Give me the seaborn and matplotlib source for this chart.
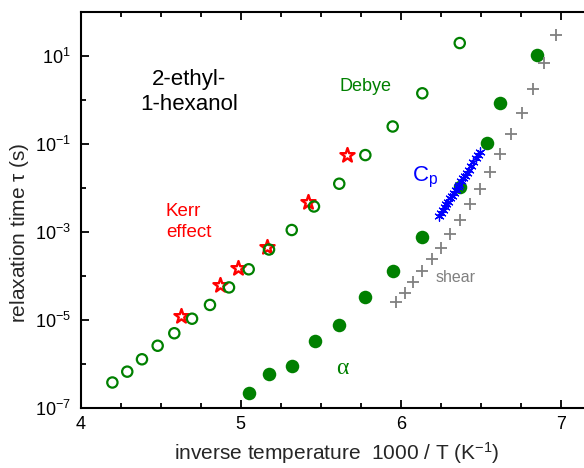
import numpy as np
import pandas as pd
import matplotlib
matplotlib.use("Agg")
import matplotlib.pyplot as plt
from matplotlib.ticker import FixedLocator, NullFormatter, LogFormatterSciNotation
import seaborn as sns

# Debye relaxation (dielectric), open circles
debye_x = [4.198, 4.291, 4.383, 4.481, 4.585, 4.696, 4.808, 4.927, 5.050,
           5.177, 5.319, 5.458, 5.616, 5.779, 5.950, 6.135, 6.369]
debye_tau = [3.8e-7, 6.7e-7, 1.28e-6, 2.6e-6, 5.0e-6, 1.07e-5, 2.2e-5, 5.5e-5,
             1.42e-4, 4.0e-4, 1.11e-3, 3.8e-3, 1.25e-2, 5.6e-2, 0.25, 1.42, 19.7]

# Kerr effect, red stars
kerr_x = [4.625, 4.871, 4.981, 5.166, 5.421, 5.666]
kerr_tau = [1.23e-5, 6.2e-5, 1.5e-4, 4.6e-4, 4.9e-3, 5.6e-2]

# alpha relaxation, filled circles
alpha_x = [5.049, 5.179, 5.319, 5.463, 5.616, 5.779, 5.950, 6.135, 6.371,
           6.538, 6.623, 6.850]
alpha_tau = [2.2e-7, 5.8e-7, 9.1e-7, 3.4e-6, 7.8e-6, 3.3e-5, 1.32e-4, 7.7e-4,
             1.04e-2, 0.105, 0.86, 10.5]

# shear mechanical relaxation, grey crosses
shear_x = [5.971, 6.029, 6.079, 6.135, 6.194, 6.252, 6.310, 6.371, 6.433,
           6.496, 6.558, 6.621, 6.689, 6.756, 6.825, 6.898, 6.969]
shear_tau = [2.5e-5, 4.1e-5, 7.2e-5, 1.32e-4, 2.4e-4, 4.4e-4, 8.9e-4, 1.87e-3,
             4.3e-3, 9.5e-3, 2.31e-2, 5.9e-2, 0.169, 0.51, 1.75, 6.9, 30.5]

# specific heat spectroscopy, blue asterisks
cp_x = [6.240, 6.252, 6.263, 6.275, 6.286, 6.297, 6.309, 6.320, 6.332, 6.343,
        6.355, 6.367, 6.378, 6.390, 6.402, 6.414, 6.426, 6.440, 6.455, 6.470,
        6.484, 6.496]
cp_tau = [2.34e-3, 2.75e-3, 3.2e-3, 3.7e-3, 4.3e-3, 4.9e-3, 5.8e-3, 6.6e-3,
          7.8e-3, 8.9e-3, 1.05e-2, 1.2e-2, 1.41e-2, 1.66e-2, 1.9e-2, 2.24e-2,
          2.6e-2, 3.2e-2, 3.8e-2, 4.7e-2, 5.6e-2, 6.6e-2]

x_major = [4, 5, 6, 7]
y_major = [1e-7, 1e-5, 1e-3, 1e-1, 1e1]
y_minor = [1e-6, 1e-4, 1e-2, 1e0]

sns.set_style("ticks")
plt.rcParams["font.family"] = ["Liberation Sans", "DejaVu Sans"]
plt.rcParams["mathtext.fontset"] = "custom"
plt.rcParams["mathtext.rm"] = "Liberation Sans"
plt.rcParams["mathtext.it"] = "Liberation Sans:italic"

GREEN = "#008000"
RED = "#ff0000"
BLUE = "#0000ff"
GREY = "#808080"

W, H = 584, 468
fig = plt.figure(figsize=(W / 100, H / 100), dpi=100)
ax = fig.add_axes([80.7 / W, 60 / H, 512 / W, 396 / H])

df_kerr = pd.DataFrame({"x": kerr_x, "tau": kerr_tau})
df_debye = pd.DataFrame({"x": debye_x, "tau": debye_tau})
df_alpha = pd.DataFrame({"x": alpha_x, "tau": alpha_tau})
df_shear = pd.DataFrame({"x": shear_x, "tau": shear_tau})
df_cp = pd.DataFrame({"x": cp_x, "tau": cp_tau})

sns.scatterplot(data=df_kerr, x="x", y="tau", ax=ax, marker="*", s=115,
                facecolor="white", edgecolor=RED, linewidth=1.7, zorder=3)
sns.scatterplot(data=df_debye, x="x", y="tau", ax=ax, marker="o", s=55,
                facecolor="none", edgecolor=GREEN, linewidth=1.6, zorder=4)
sns.scatterplot(data=df_alpha, x="x", y="tau", ax=ax, marker="o", s=95,
                color=GREEN, edgecolor=GREEN, linewidth=0, zorder=3)
sns.scatterplot(data=df_shear, x="x", y="tau", ax=ax, marker="+", s=75,
                color=GREY, linewidth=1.3, zorder=3)
sns.scatterplot(data=df_cp, x="x", y="tau", ax=ax, marker=(6, 2, 0), s=45,
                color=BLUE, linewidth=0.9, zorder=5)

ax.set_yscale("log")
ax.set_xlim(4, 7.2)
ax.set_ylim(1e-7, 1e2)

ax.xaxis.set_major_locator(FixedLocator(x_major))
ax.xaxis.set_minor_locator(FixedLocator(np.arange(4.25, 7.2, 0.25)))
ax.xaxis.set_minor_formatter(NullFormatter())
ax.yaxis.set_major_locator(FixedLocator(y_major))
ax.yaxis.set_major_formatter(LogFormatterSciNotation())
ax.yaxis.set_minor_locator(FixedLocator(y_minor))
ax.yaxis.set_minor_formatter(NullFormatter())

for side in ["left", "bottom", "top", "right"]:
    ax.spines[side].set_linewidth(1.5)
    ax.spines[side].set_color("black")

ax.tick_params(axis="both", which="both", direction="in", top=True, right=True,
               width=1.3, colors="black", labelsize=13)
ax.tick_params(axis="both", which="major", length=6)
ax.tick_params(axis="both", which="minor", length=3.5)
ax.tick_params(axis="x", which="major", pad=6)
ax.tick_params(axis="y", which="major", pad=7)

ax.set_xlabel(r"inverse temperature  1000 / T (K$^{\mathregular{-1}}$)", fontsize=15)
ax.set_ylabel(r"relaxation time $\mathregular{\tau}$ (s)", fontsize=15)
ax.xaxis.set_label_coords(0.5, -0.115)
ax.xaxis.label.set_va("center")
ax.yaxis.set_label_coords(-0.1186, 0.442)
ax.yaxis.label.set_va("center")

ax.text(4.677, 1.52, "2-ethyl-\n1-hexanol", ha="center", va="center",
        fontsize=16, color="black", linespacing=1.25)
ax.text(5.783, 2.08, "Debye", ha="center", va="center", fontsize=13, color=GREEN)
ax.text(4.533, 10 ** -2.773, "Kerr\neffect", ha="left", va="center",
        fontsize=13.5, color=RED, linespacing=1.25)
ax.text(6.069, 10 ** -1.841, r"C$_{\mathregular{p}}$", ha="left", va="baseline",
        fontsize=16, color=BLUE)
ax.text(6.3456, 10 ** -4.03, "shear", ha="center", va="center", fontsize=11.5,
        color=GREY)
ax.text(5.636, 10 ** -6.098, "\u03b1", ha="center", va="center", fontsize=17,
        color=GREEN, family=["Liberation Serif", "DejaVu Serif"])

fig.savefig("out.png", dpi=100)
